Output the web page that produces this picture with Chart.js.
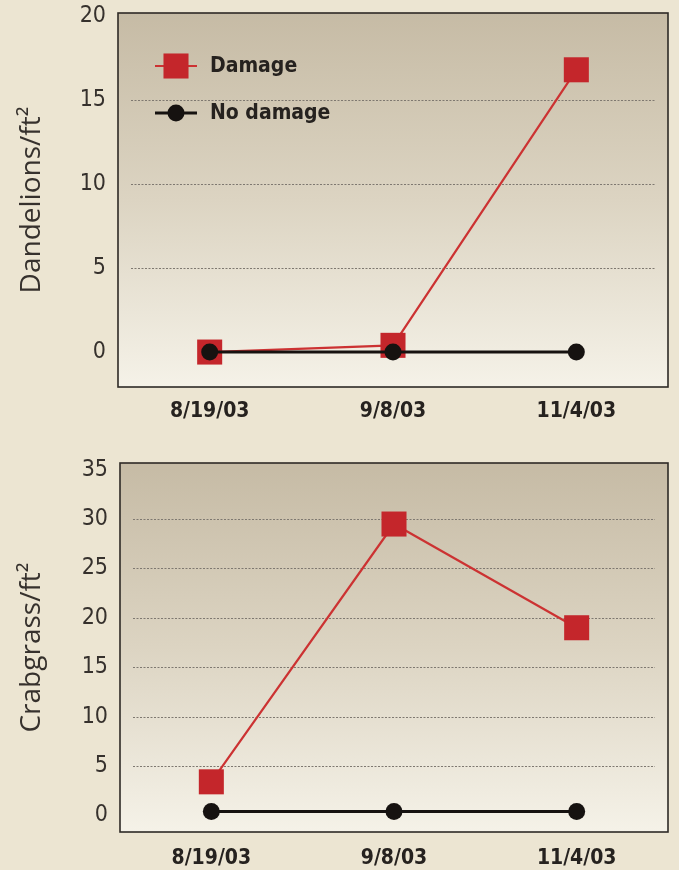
<!DOCTYPE html>
<html><head><meta charset="utf-8">
<script src="https://cdn.jsdelivr.net/npm/chart.js@4/dist/chart.umd.min.js"></script>
<style>
html,body{margin:0;padding:0;background:#ece5d2;}
body{width:679px;height:870px;position:relative;overflow:hidden;}
.w{position:absolute;left:0;width:679px;height:435px;}
#w1{top:0;} #w2{top:435px;}
</style></head><body>
<div class="w" id="w1"><canvas id="c1"></canvas></div>
<div class="w" id="w2"><canvas id="c2"></canvas></div>
<script>
const dates = ['8/19/03', '9/8/03', '11/4/03'];
const seriesNames = ['Damage', 'No damage'];
const dandelionDamage = [0, 0.4, 16.8];
const dandelionNoDamage = [0, 0, 0];
const crabgrassDamage = [3.4, 29.5, 19.0];
const crabgrassNoDamage = [0.4, 0.4, 0.4];
const dandelionTicks = [0, 5, 10, 15, 20];
const crabgrassTicks = [0, 5, 10, 15, 20, 25, 30, 35];
const dandelionGrid = [5, 10, 15];
const crabgrassGrid = [5, 10, 15, 20, 25, 30];

const RED = '#c4262b', RED_LINE = '#cc3232', BLACK = '#161210';
const tickFont = '"Liberation Sans Narrow", "DejaVu Sans Condensed", "Open Sans", sans-serif';

const framePlugin = {
  id: 'frame',
  beforeDatasetsDraw(chart, args, opts) {
    const {ctx, chartArea: a} = chart;
    const y = chart.scales.y;
    ctx.save();
    const g = ctx.createLinearGradient(0, a.top, 0, a.bottom);
    g.addColorStop(0, '#c6bba5');
    g.addColorStop(0.5, '#dcd4c2');
    g.addColorStop(1, '#f5f2e8');
    ctx.fillStyle = g;
    ctx.fillRect(a.left, a.top, a.width, a.height);
    ctx.strokeStyle = '#7e7870';
    ctx.lineWidth = 1;
    ctx.setLineDash([2, 1.5]);
    opts.grid.forEach(v => {
      const py = Math.round(y.getPixelForValue(v)) + 0.5;
      ctx.beginPath();
      ctx.moveTo(a.left + 13, py);
      ctx.lineTo(a.right - 13, py);
      ctx.stroke();
    });
    ctx.restore();
  },
  afterDraw(chart, args, opts) {
    const {ctx, chartArea: a} = chart;
    ctx.save();
    ctx.strokeStyle = '#2e2a26';
    ctx.lineWidth = 1.6;
    ctx.strokeRect(a.left, a.top, a.width, a.height);
    if (opts.legend) {
      const ds = chart.data.datasets;
      const rows = [53, 100];
      ds.forEach((d, i) => {
        const cy = a.top + rows[i];
        const x0 = a.left + 37, x1 = a.left + 79, cx = (x0 + x1) / 2;
        ctx.strokeStyle = d.borderColor;
        ctx.lineWidth = d.borderWidth;
        ctx.beginPath(); ctx.moveTo(x0, cy); ctx.lineTo(x1, cy); ctx.stroke();
        ctx.fillStyle = d.pointBackgroundColor;
        if (d.pointStyle === 'rect') {
          const s = d.pointRadius * Math.SQRT1_2;
          ctx.fillRect(cx - s, cy - s, 2 * s, 2 * s);
        } else {
          ctx.beginPath(); ctx.arc(cx, cy, d.pointRadius, 0, Math.PI * 2); ctx.fill();
        }
        ctx.fillStyle = '#26221f';
        ctx.font = 'bold 21px ' + tickFont;
        ctx.textBaseline = 'middle';
        ctx.fillText(d.label, a.left + 92, cy + 1);
      });
    }
    ctx.restore();
  }
};

function makeChart(id, dmg, nodmg, yMin, yMax, ticks, grid, title, padTop, xH, yW, xPad, legend) {
  return new Chart(document.getElementById(id), {
    type: 'line',
    data: {
      labels: dates,
      datasets: [
        {label: seriesNames[0], data: dmg, borderColor: RED_LINE, borderWidth: 2.2,
         pointStyle: 'rect', pointRadius: 17.7, pointBackgroundColor: RED, pointBorderColor: RED,
         pointBorderWidth: 0, order: 1, tension: 0, clip: false},
        {label: seriesNames[1], data: nodmg, borderColor: BLACK, borderWidth: 3,
         pointStyle: 'circle', pointRadius: 8.5, pointBackgroundColor: BLACK, pointBorderColor: BLACK,
         pointBorderWidth: 0, order: 0, tension: 0, clip: false}
      ]
    },
    options: {
      responsive: true, maintainAspectRatio: false, animation: false,
      layout: {autoPadding: false, padding: {top: padTop, right: 11, left: 0, bottom: 0}},
      plugins: {legend: {display: false}, tooltip: {enabled: false}, frame: {grid: grid, legend: legend}},
      scales: {
        x: {
          offset: true,
          grid: {display: false, drawTicks: false},
          border: {display: false},
          ticks: {padding: xPad, color: '#26221f', font: {family: tickFont, size: 21, weight: 'bold'}},
          afterFit: s => { s.height = xH; }
        },
        y: {
          min: yMin, max: yMax,
          afterBuildTicks: s => { s.ticks = ticks.map(v => ({value: v})); },
          grid: {display: false, drawTicks: false},
          border: {display: false},
          ticks: {padding: 12, color: '#36312d', font: {family: tickFont, size: 23, lineHeight: 0.05}},
          title: {display: true, text: title, color: '#36312d',
                  font: {family: '"Open Sans", sans-serif', size: 28}, padding: {top: 15, bottom: 0}},
          afterFit: s => { s.width = yW; }
        }
      }
    },
    plugins: [framePlugin]
  });
}

makeChart('c1', dandelionDamage, dandelionNoDamage, -2.08, 20.18, dandelionTicks, dandelionGrid,
  'Dandelions/ft²', 13, 48, 118, 12, true);
makeChart('c2', crabgrassDamage, crabgrassNoDamage, -1.68, 35.68, crabgrassTicks, crabgrassGrid,
  'Crabgrass/ft²', 28, 38, 120, 14, false);
</script>
</body></html>
